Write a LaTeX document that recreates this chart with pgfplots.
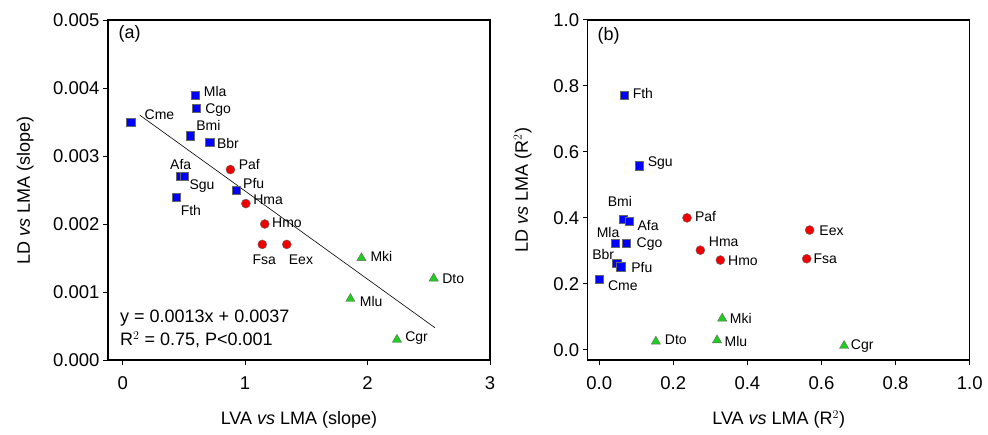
\documentclass[border=0pt]{standalone}
\usepackage{pgfplots}
\pgfplotsset{compat=1.18}
\usepackage{fontspec}
\setmainfont{Liberation Sans}
\definecolor{mblue}{RGB}{0,0,255}
\definecolor{mred}{RGB}{240,0,0}
\definecolor{mgreen}{RGB}{30,205,30}
\pgfplotsset{
  panel/.style={
    scale only axis, width=382pt, height=340pt,
    anchor=south west, clip=false,
    axis line style={line width=1.1pt},
    tick style={line width=1pt, black},
    tick align=outside, major tick length=5pt,
    xtick pos=bottom, ytick pos=left,
    /pgf/number format/assume math mode=true,
    tick label style={font=\fontsize{18.5}{21}\selectfont},
    xticklabel style={yshift=-8pt},
    label style={font=\fontsize{18}{21}\selectfont},
  },
  sq/.style={only marks, mark=square*, mark size=4.1pt, mark options={fill=mblue, draw=black!60, line width=0.4pt}},
  ci/.style={only marks, mark=*, mark size=4.5pt, mark options={fill=mred, draw=black!60, line width=0.4pt}},
  tr/.style={only marks, mark=triangle*, mark size=5.3pt, mark options={fill=mgreen, draw=black!60, line width=0.4pt}},
}
\newcommand{\lab}[3]{\node[font=\fontsize{14}{16}\selectfont, inner sep=0pt] at (axis cs:#1,#2) {#3};}
\begin{document}
\begin{tikzpicture}
\useasboundingbox (0,0) rectangle (988pt,434pt);
% ---------------- panel (a)
\begin{axis}[panel, at={(108pt,74pt)},
  xmin=-0.12, xmax=3, ymin=0, ymax=0.005,
  xtick={0,1,2,3}, ytick={0,0.001,0.002,0.003,0.004,0.005},
  yticklabel style={/pgf/number format/fixed, /pgf/number format/fixed zerofill, /pgf/number format/precision=3},
  scaled y ticks=false,
  xlabel={LVA \textit{vs} LMA (slope)},
  ylabel={LD \textit{vs} LMA (slope)},
  xlabel style={at={(axis description cs:0.5,-0.176)}, anchor=center},
  ylabel style={at={(axis description cs:-0.217,0.5)}, anchor=center},
]
\addplot[black, line width=0.6pt] coordinates {(0.14,0.0036) (2.55,0.000475)};
\addplot[sq] coordinates {
(0.59,0.0039) (0.60,0.0037) (0.065,0.0035) (0.55,0.0033) (0.71,0.0032)
(0.47,0.0027) (0.50,0.0027) (0.93,0.0025) (0.44,0.0024)};
\addplot[ci] coordinates {
(0.88,0.0028) (1.006,0.0023) (1.16,0.0020) (1.14,0.0017) (1.34,0.0017)};
\addplot[tr] coordinates {
(1.95,0.0015) (2.54,0.0012) (1.86,0.0009) (2.24,0.0003)};
\lab{0.755}{0.003946}{Mla}
\lab{0.78}{0.003676}{Cgo}
\lab{0.30}{0.003613}{Cme}
\lab{0.70}{0.003456}{Bmi}
\lab{0.86}{0.003187}{Bbr}
\lab{1.034}{0.002878}{Paf}
\lab{0.474}{0.002882}{Afa}
\lab{0.648}{0.002563}{Sgu}
\lab{1.07}{0.002598}{Pfu}
\lab{0.557}{0.002196}{Fth}
\lab{1.188}{0.002353}{Hma}
\lab{1.342}{0.002019}{Hmo}
\lab{1.157}{0.001481}{Fsa}
\lab{1.456}{0.001481}{Eex}
\lab{2.113}{0.001529}{Mki}
\lab{2.70}{0.001196}{Dto}
\lab{2.03}{0.000857}{Mlu}
\lab{2.40}{0.000319}{Cgr}
\node[anchor=west, inner sep=0pt, font=\fontsize{18}{21}\selectfont] at (axis cs:-0.022,0.000613) {y = 0.0013x + 0.0037};
\node[anchor=west, inner sep=0pt, font=\fontsize{18}{21}\selectfont] at (axis cs:-0.022,0.000294) {R$^{2}$ = 0.75, P<0.001};
\node[anchor=west, inner sep=0pt, font=\fontsize{18}{21}\selectfont] at (axis cs:-0.035,0.00480) {(a)};
\end{axis}
% ---------------- panel (b)
\begin{axis}[panel, at={(587.7pt,74pt)},
  xmin=-0.031, xmax=1.0, ymin=-0.031, ymax=1.0,
  xtick={0,0.2,0.4,0.6,0.8,1.0}, ytick={0,0.2,0.4,0.6,0.8,1.0},
  xticklabel style={/pgf/number format/fixed, /pgf/number format/fixed zerofill, /pgf/number format/precision=1},
  yticklabel style={/pgf/number format/fixed, /pgf/number format/fixed zerofill, /pgf/number format/precision=1},
  xlabel={LVA \textit{vs} LMA (R$^{2}$)},
  ylabel={LD \textit{vs} LMA (R$^{2}$)},
  xlabel style={at={(axis description cs:0.5,-0.176)}, anchor=center},
  ylabel style={at={(axis description cs:-0.170,0.5)}, anchor=center},
]
\addplot[sq] coordinates {
(0.068,0.772) (0.107,0.558) (0.065,0.397) (0.081,0.389) (0.043,0.323)
(0.072,0.323) (0.047,0.262) (0.058,0.252) (0.0,0.214)};
\addplot[ci] coordinates {
(0.237,0.40) (0.568,0.363) (0.273,0.302) (0.327,0.272) (0.560,0.276)};
\addplot[tr] coordinates {
(0.332,0.095) (0.153,0.025) (0.318,0.029) (0.661,0.012)};
\lab{0.118}{0.776}{Fth}
\lab{0.165}{0.567}{Sgu}
\lab{0.056}{0.449}{Bmi}
\lab{0.132}{0.378}{Afa}
\lab{0.287}{0.403}{Paf}
\lab{0.627}{0.360}{Eex}
\lab{0.024}{0.355}{Mla}
\lab{0.136}{0.320}{Cgo}
\lab{0.336}{0.328}{Hma}
\lab{0.388}{0.269}{Hmo}
\lab{0.610}{0.275}{Fsa}
\lab{0.011}{0.289}{Bbr}
\lab{0.115}{0.249}{Pfu}
\lab{0.064}{0.193}{Cme}
\lab{0.382}{0.095}{Mki}
\lab{0.207}{0.0315}{Dto}
\lab{0.369}{0.026}{Mlu}
\lab{0.710}{0.011}{Cgr}
\node[anchor=west, inner sep=0pt, font=\fontsize{18}{21}\selectfont] at (axis cs:-0.005,0.953) {(b)};
\end{axis}
\end{tikzpicture}
\end{document}
